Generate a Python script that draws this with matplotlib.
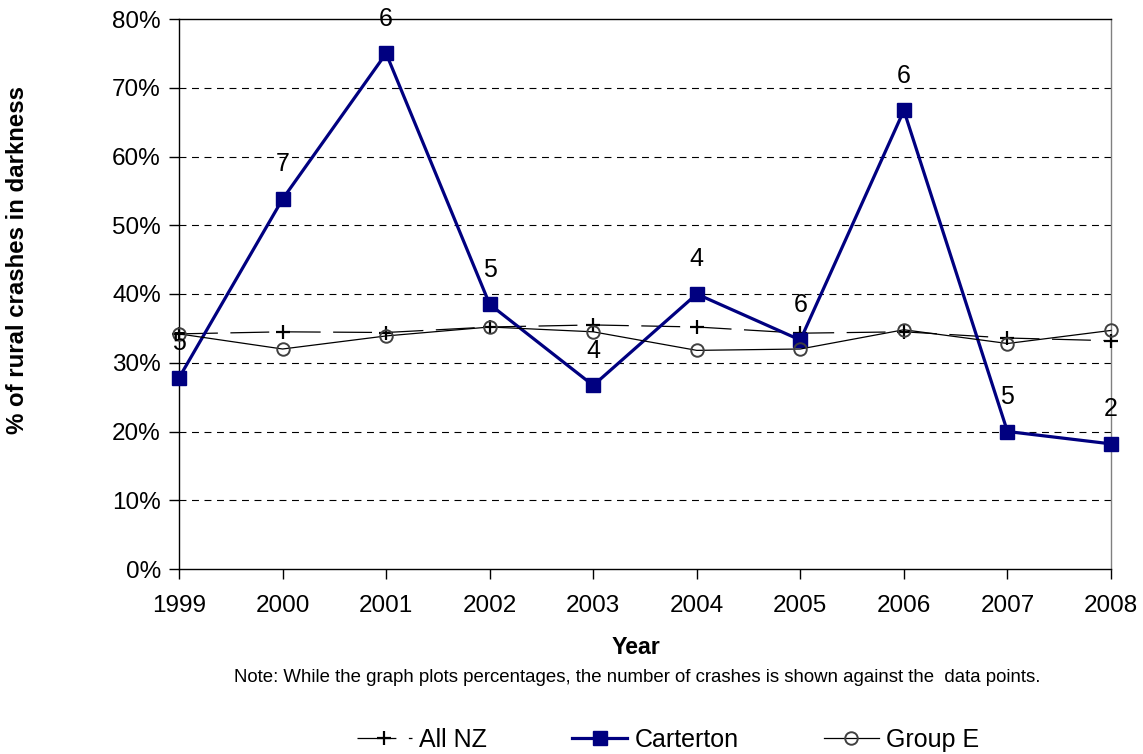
import matplotlib
matplotlib.use("Agg")
import matplotlib.pyplot as plt
from matplotlib.ticker import PercentFormatter

plt.rcParams['font.family'] = ['Liberation Sans', 'DejaVu Sans']
plt.rcParams['lines.scale_dashes'] = False

years = [1999, 2000, 2001, 2002, 2003, 2004, 2005, 2006, 2007, 2008]
all_nz = [34.2, 34.5, 34.4, 35.2, 35.5, 35.2, 34.3, 34.5, 33.6, 33.2]
carterton = [27.8, 53.8, 75.0, 38.5, 26.7, 40.0, 33.3, 66.7, 20.0, 18.2]
group_e = [34.2, 32.0, 33.9, 35.2, 34.5, 31.8, 32.0, 34.8, 32.8, 34.7]
crash_counts = [5, 7, 6, 5, 4, 4, 6, 6, 5, 2]
y_ticks = [0, 10, 20, 30, 40, 50, 60, 70, 80]

W, H = 1143, 754
fig = plt.figure(figsize=(W / 100, H / 100), dpi=100)
ax = fig.add_axes([179 / W, (H - 569) / H, 932 / W, 550 / H])

ax.plot(years, all_nz, color='black', lw=0.9, linestyle=(0, (28, 9)),
        marker='+', markersize=10, markeredgewidth=1.6, label='All NZ', zorder=3,
        clip_on=False)
ax.plot(years, carterton, color='#000080', lw=2.3, marker='s', markersize=10,
        markerfacecolor='#000080', markeredgecolor='#000080', label='Carterton', zorder=4,
        clip_on=False)
ax.plot(years, group_e, color='black', lw=0.9, marker='o', markersize=9,
        markerfacecolor='none', markeredgecolor='#404040', markeredgewidth=1.4,
        label='Group E', zorder=5, clip_on=False)

for x, y, n in zip(years, carterton, crash_counts):
    ax.annotate(str(n), (x, y), xytext=(0, 25), textcoords='offset points',
                ha='center', va='center', fontsize=18, color='black', zorder=6)

ax.set_xlim(1999, 2008)
ax.set_ylim(0, 80)
ax.set_xticks(years)
ax.set_xticklabels([str(y) for y in years])
ax.set_yticks(y_ticks)
ax.yaxis.set_major_formatter(PercentFormatter(decimals=0))
ax.tick_params(axis='both', labelsize=17.5, length=7, width=1, direction='out', color='black')
ax.tick_params(axis='x', pad=12)
ax.tick_params(axis='y', pad=6)

for y in y_ticks[1:-1]:
    ax.axhline(y, color='black', lw=0.8, linestyle=(0, (5, 4)), zorder=1)

ax.spines['left'].set_color('black')
ax.spines['bottom'].set_color('black')
ax.spines['top'].set_color('black')
ax.spines['right'].set_color('#808080')
for s in ax.spines.values():
    s.set_linewidth(1.0)

fig.text(18 / W, 1 - 260 / H, '% of rural crashes in darkness', rotation=90,
         ha='center', va='center', fontsize=17.3, fontweight='bold')
fig.text(636 / W, 1 - 648 / H, 'Year', ha='center', va='center',
         fontsize=16.7, fontweight='bold')
fig.text(637 / W, 1 - 677 / H,
         'Note: While the graph plots percentages, the number of crashes is shown against the  data points.',
         ha='center', va='center', fontsize=13.4)

fig.legend(loc='center', bbox_to_anchor=(668 / W, 1 - 740 / H), ncol=3, frameon=False,
           fontsize=18, handlelength=2.2, columnspacing=3.4, handletextpad=0.3)

fig.savefig('out.png', dpi=100)
